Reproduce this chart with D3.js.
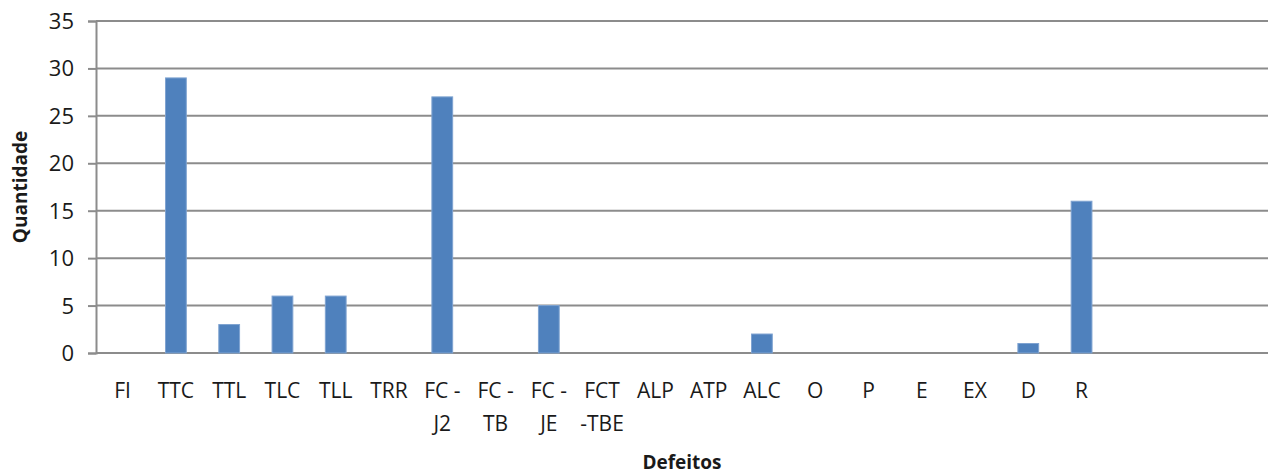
<!DOCTYPE html>
<html>
<head>
<meta charset="utf-8">
<script src="https://cdn.jsdelivr.net/npm/d3@7"></script>
<style>
  body { margin: 0; background: #fff; }
  svg text { font-family: "Open Sans", "Noto Sans", sans-serif; fill: #1a1a1a; }
</style>
</head>
<body>
<div class="chart"></div>
<script>
// categories (last three are blank slots in the original chart)
const categories = ["FI", "TTC", "TTL", "TLC", "TLL", "TRR", "FC - J2", "FC - TB", "FC - JE",
  "FCT -TBE", "ALP", "ATP", "ALC", "O", "P", "E", "EX", "D", "R", "", " ", "  "];
const labelLines = [["FI"], ["TTC"], ["TTL"], ["TLC"], ["TLL"], ["TRR"], ["FC -", "J2"], ["FC -", "TB"],
  ["FC -", "JE"], ["FCT", "-TBE"], ["ALP"], ["ATP"], ["ALC"], ["O"], ["P"], ["E"], ["EX"], ["D"], ["R"], [], [], []];
const values = [0, 29, 3, 6, 6, 0, 27, 0, 5, 0, 0, 0, 2, 0, 0, 0, 0, 1, 16, 0, 0, 0];
const yTicks = [0, 5, 10, 15, 20, 25, 30, 35];

const width = 1268, height = 475;
const margin = { top: 21, right: 0, bottom: 122, left: 96 };

const svg = d3.select(".chart").append("svg")
  .attr("width", width)
  .attr("height", height);

const x = d3.scaleBand()
  .domain(categories)
  .range([margin.left, width - margin.right])
  .paddingInner(0.61)
  .paddingOuter(0.305);

const y = d3.scaleLinear()
  .domain([0, 35])
  .range([height - margin.bottom, margin.top]);

// left axis with ticks
const yAxis = svg.append("g")
  .attr("transform", `translate(${margin.left},0)`)
  .call(d3.axisLeft(y).tickValues(yTicks).tickSize(8).tickPadding(14))
  .call(g => g.select(".domain").attr("stroke", "#8c8c8c").attr("stroke-width", 2));
yAxis.selectAll(".tick line").attr("stroke", "#8c8c8c").attr("stroke-width", 2);
yAxis.selectAll(".tick text")
  .style("font-size", "22px")
  .attr("fill", "#1a1a1a")
  .attr("dy", "0.34em");

// gridlines
svg.append("g")
  .selectAll("line")
  .data(yTicks)
  .enter()
  .append("line")
  .attr("x1", margin.left)
  .attr("x2", width - margin.right)
  .attr("y1", d => y(d))
  .attr("y2", d => y(d))
  .attr("stroke", "#8c8c8c")
  .attr("stroke-width", 2);

// bars
svg.append("g")
  .selectAll("rect")
  .data(categories.map((c, i) => ({ c, v: values[i] })).filter(d => d.v > 0))
  .enter()
  .append("rect")
  .attr("x", d => x(d.c))
  .attr("width", x.bandwidth())
  .attr("y", d => y(d.v))
  .attr("height", d => y(0) - y(d.v))
  .attr("fill", "#4f81bd")
  .attr("stroke", "#7fa3d1")
  .attr("stroke-width", 1);

// x labels (wrapped like the original)
const xl = svg.append("g")
  .selectAll("text")
  .data(categories.map((c, i) => ({ c, lines: labelLines[i] })))
  .enter()
  .append("text")
  .attr("text-anchor", "middle")
  .style("font-size", "21px");
xl.each(function (d) {
  const t = d3.select(this);
  d.lines.forEach((ln, k) => {
    t.append("tspan")
      .attr("x", x(d.c) + x.bandwidth() / 2)
      .attr("y", 398 + k * 33)
      .text(ln);
  });
});

// axis titles
svg.append("text")
  .attr("x", (margin.left + width - margin.right) / 2)
  .attr("y", 469)
  .attr("text-anchor", "middle")
  .style("font-size", "19px")
  .style("font-weight", "bold")
  .text("Defeitos");

svg.append("text")
  .attr("transform", `translate(27,187) rotate(-90)`)
  .attr("text-anchor", "middle")
  .style("font-size", "19px")
  .style("font-weight", "bold")
  .text("Quantidade");
</script>
</body>
</html>
